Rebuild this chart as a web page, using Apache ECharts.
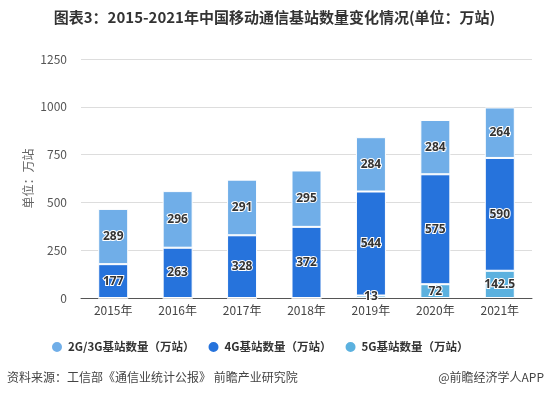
<!DOCTYPE html>
<html><head><meta charset="utf-8">
<script src="https://cdn.jsdelivr.net/npm/echarts@6/dist/echarts.min.js"></script>
<style>html,body{margin:0;padding:0;background:#fff}#c{width:549px;height:397px}</style>
</head><body><div id="c"></div>
<script>
var categories = ['2015年','2016年','2017年','2018年','2019年','2020年','2021年'];
var g5 = [0, 0, 0, 0, 13, 72, 142.5];
var g4 = [177, 263, 328, 372, 544, 575, 590];
var g23 = [289, 296, 291, 295, 284, 284, 264];
var yTicks = [0, 250, 500, 750, 1000, 1250];
var names = ['2G/3G基站数量（万站）', '4G基站数量（万站）', '5G基站数量（万站）'];

var font = '"Microsoft YaHei","Noto Sans CJK SC",sans-serif';
var lbl = {show:true, position:'inside', color:'#333', fontSize:12, fontWeight:'bold',
  fontFamily:'"Open Sans","Noto Sans CJK SC",sans-serif', textBorderColor:'#fff', textBorderWidth:2,
  formatter:function(p){return p.value ? p.value : '';}};
var chart = echarts.init(document.getElementById('c'));
chart.setOption({
  animation:false,
  textStyle:{fontFamily:font},
  title:[{text:'图表3：2015-2021年中国移动通信基站数量变化情况(单位：万站)', left:'center', top:5,
    textStyle:{fontSize:15, fontWeight:'bold', color:'#333', fontFamily:font}}],
  graphic:[
    {type:'text', left:7, top:371, style:{text:'资料来源：工信部《通信业统计公报》 前瞻产业研究院', fill:'#444', font:'12px "Noto Sans CJK SC"'}},
    {type:'text', right:5, top:371, style:{text:'@前瞻经济学人APP', fill:'#444', font:'12px "Noto Sans CJK SC"'}}
  ],
  legend:{data:names, bottom:38, left:45, itemGap:12, icon:'circle', itemWidth:12, itemHeight:12,
    textStyle:{fontSize:11.5, color:'#333', fontWeight:'bold', fontFamily:font}},
  grid:{left:81, right:17, top:59, bottom:99},
  xAxis:{type:'category', data:categories,
    axisLine:{lineStyle:{color:'#555'}}, axisTick:{alignWithLabel:true, lineStyle:{color:'#555'}},
    axisLabel:{color:'#444', fontSize:12, margin:6}},
  yAxis:{type:'value', min:yTicks[0], max:yTicks[yTicks.length-1], interval:250, name:'单位：万站', nameLocation:'middle', nameGap:47,
    nameMoveOverlap:false,
    nameTextStyle:{color:'#666', fontSize:12},
    axisLabel:{color:'#555', fontSize:12, margin:14, formatter:function(v){return String(v);}}, axisLine:{show:false}, axisTick:{show:false},
    splitLine:{lineStyle:{color:'#ddd'}}},
  series:[
    {name:names[2], type:'bar', stack:'a', data:g5, barWidth:30, itemStyle:{color:'#5bb1df', borderColor:'#fff', borderWidth:1}, label:lbl},
    {name:names[1], type:'bar', stack:'a', data:g4, barWidth:30, itemStyle:{color:'#2673dc', borderColor:'#fff', borderWidth:1}, label:lbl},
    {name:names[0], type:'bar', stack:'a', data:g23, barWidth:30, itemStyle:{color:'#70aee8', borderColor:'#fff', borderWidth:1}, label:lbl}
  ]
});
</script></body></html>
